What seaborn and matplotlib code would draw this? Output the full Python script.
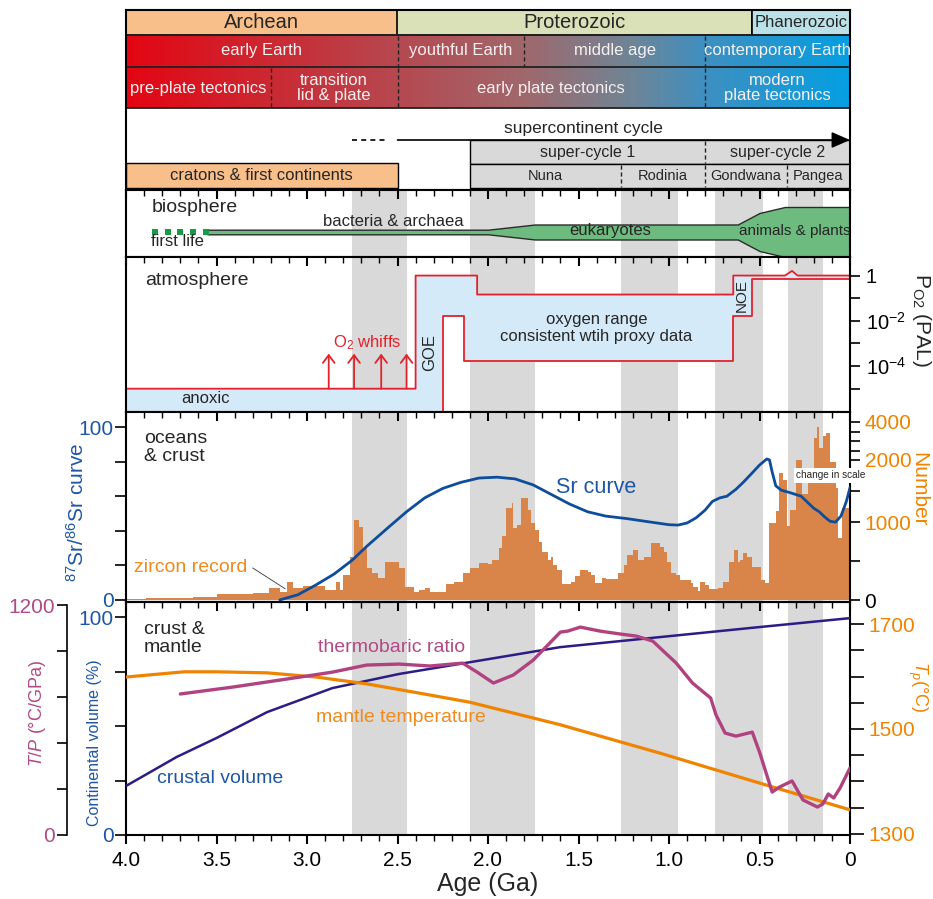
import numpy as np
import pandas as pd
import matplotlib
matplotlib.use("Agg")
import matplotlib.pyplot as plt
import seaborn as sns
from matplotlib.colors import LinearSegmentedColormap
from matplotlib.patches import Rectangle
from matplotlib.ticker import MultipleLocator, NullLocator

sns.set_theme(style="white")
plt.rcParams["font.family"] = ["Liberation Sans", "DejaVu Sans"]
plt.rcParams["mathtext.fontset"] = "custom"
plt.rcParams["mathtext.rm"] = "Liberation Sans"
plt.rcParams["mathtext.it"] = "Liberation Sans:italic"
plt.rcParams["axes.edgecolor"] = "black"
plt.rcParams["xtick.color"] = "black"
plt.rcParams["ytick.color"] = "black"

# --- header rows
eon_names = ["Archean", "Proterozoic", "Phanerozoic"]
eon_start = [4.0, 2.5, 0.541]
eon_end = [2.5, 0.541, 0.0]
eon_colors = ["#f8bf8a", "#dae0b8", "#bbe1e8"]

stage_names = ["early Earth", "youthful Earth", "middle age", "contemporary Earth"]
stage_bounds = [4.0, 2.5, 1.8, 0.8, 0.0]
tecto_names = ["pre-plate tectonics", "transition\nlid & plate", "early plate tectonics",
               "modern\nplate tectonics"]
tecto_bounds = [4.0, 3.2, 2.5, 0.8, 0.0]

cycle_start = 2.5
early_cycle = [2.75, 2.57]
supercycle_names = ["super-cycle 1", "super-cycle 2"]
supercycle_bounds = [2.1, 0.8, 0.0]
supercont_names = ["Nuna", "Rodinia", "Gondwana", "Pangea"]
supercont_bounds = [2.1, 1.265, 0.8, 0.35, 0.0]
craton_span = [4.0, 2.5]

grey_bands = [(2.75, 2.45), (2.10, 1.74), (1.265, 0.95), (0.745, 0.48), (0.34, 0.15)]

# --- biosphere (half thickness of the life band)
bio_age = [3.55, 2.0, 1.74, 0.62, 0.50, 0.36, 0.0]
bio_half = [2.3, 2.3, 7.5, 7.5, 19, 25, 25]
first_life_age = [3.84, 3.77, 3.70, 3.63, 3.56]

# --- atmosphere, pO2 (PAL)
o2_age = [4.0, 2.40, 2.40, 2.25, 2.25, 2.13, 2.13, 2.06, 2.06, 0.645, 0.645, 0.54, 0.54,
          0.36, 0.32, 0.29, 0.0]
o2_high = [1e-5, 1e-5, 1, 1, 1, 1, 1, 1, 0.145, 0.145, 1, 1, 1, 1, 1.6, 1, 1]
o2_low = [1e-7, 1e-7, 1e-7, 1e-7, 0.016, 0.016, 1.6e-4, 1.6e-4, 1.6e-4, 1.6e-4, 0.016,
          0.016, 0.74, 0.74, 0.74, 0.74, 0.74]
whiff_ages = [2.88, 2.74, 2.59, 2.45]

# --- oceans & crust
sr_age = [3.15, 3.05, 2.95, 2.85, 2.75, 2.67, 2.55, 2.45, 2.35, 2.25, 2.15, 2.05, 1.95,
          1.85, 1.75, 1.65, 1.55, 1.45, 1.35, 1.23, 1.10, 1.0, 0.95, 0.90, 0.85, 0.80,
          0.76, 0.72, 0.68, 0.63, 0.59, 0.54, 0.50, 0.46, 0.445, 0.43, 0.41, 0.38, 0.33,
          0.27, 0.23, 0.20, 0.17, 0.14, 0.11, 0.08, 0.05, 0.02, 0.0]
sr_value = [0, 3, 8.7, 15, 23, 31, 42, 51, 59, 64.5, 68, 70.5, 71, 70, 66.5, 61, 55.5,
            51, 48.5, 47, 45, 43.5, 43.3, 44.5, 47.5, 52, 57, 59, 60, 64, 68, 73.5, 78,
            81.5, 81, 74, 66, 63.5, 62, 60, 56, 53, 51, 48, 45.5, 45, 48.5, 57, 65]

zircon_edges = [4.00, 3.89, 3.63, 3.50, 3.30, 3.21, 3.15, 3.11, 3.08, 3.02,
                2.90, 2.84, 2.82, 2.80, 2.76, 2.74, 2.71, 2.69, 2.67, 2.64,
                2.61, 2.57, 2.49, 2.46, 2.41, 2.38, 2.35, 2.32, 2.23, 2.19,
                2.14, 2.10, 2.05, 2.00, 1.98, 1.94, 1.92, 1.90, 1.87, 1.86,
                1.84, 1.82, 1.78, 1.76, 1.74, 1.72, 1.70, 1.67, 1.65, 1.64,
                1.62, 1.59, 1.54, 1.52, 1.49, 1.45, 1.43, 1.41, 1.37, 1.35,
                1.28, 1.25, 1.23, 1.20, 1.17, 1.14, 1.10, 1.05, 1.03, 1.01,
                0.99, 0.96, 0.94, 0.88, 0.87, 0.84, 0.83, 0.80, 0.78, 0.73,
                0.70, 0.67, 0.64, 0.62, 0.61, 0.59, 0.57, 0.54, 0.49, 0.47,
                0.45, 0.41, 0.39, 0.37, 0.35, 0.33, 0.30, 0.265, 0.23, 0.20,
                0.185, 0.17, 0.15, 0.13, 0.11, 0.075, 0.065, 0.045, 0.0]
zircon_counts = [15, 25, 35, 77, 85, 150, 100, 225, 150, 180,
                 128, 235, 130, 320, 550, 1030, 940, 670, 410, 345,
                 280, 490, 410, 170, 100, 128, 150, 107, 205, 235,
                 340, 410, 475, 460, 513, 665, 820, 1226, 1306, 920,
                 960, 1390, 1190, 990, 900, 745, 615, 513, 547, 450,
                 385, 205, 235, 308, 385, 360, 320, 220, 280, 270,
                 340, 450, 577, 640, 513, 555, 730, 680, 615, 490,
                 345, 320, 256, 213, 170, 115, 235, 190, 140, 158,
                 235, 490, 640, 490, 513, 600, 555, 425, 256, 213,
                 985, 1180, 1790, 1680, 950, 1200, 2000, 1450, 1700, 3160,
                 3740, 2630, 3250, 3400, 1970, 1550, 795, 1225]

# --- crust & mantle
cv_age = [4.0, 3.72, 3.50, 3.22, 2.86, 2.49, 2.12, 1.60, 1.05, 0.50, 0.0]
cv_value = [22.5, 35.8, 44.5, 56.4, 67.4, 73.9, 79.0, 86.2, 90.8, 95.4, 99.5]
mt_age = [4.0, 3.68, 3.50, 3.22, 2.95, 2.67, 2.39, 2.10, 1.60, 1.05, 0.50, 0.0]
mt_value = [1599, 1609, 1609, 1607, 1599, 1586, 1569, 1551, 1508, 1454, 1397, 1346]
tpr_age = [3.70, 3.41, 3.04, 2.86, 2.67, 2.49, 2.32, 2.14, 2.06, 1.97, 1.86, 1.75, 1.60,
           1.56, 1.49, 1.38, 1.27, 1.18, 1.09, 0.96, 0.87, 0.77, 0.74, 0.69, 0.63, 0.54,
           0.50, 0.43, 0.39, 0.32, 0.26, 0.18, 0.15, 0.12, 0.09, 0.055, 0.0]
tpr_value = [736, 772, 824, 850, 887, 892, 882, 897, 850, 793, 835, 913, 1059, 1064, 1085,
             1064, 1049, 1038, 1012, 897, 793, 715, 626, 532, 516, 537, 433, 224, 250, 282,
             183, 146, 162, 214, 193, 245, 350]

GREY = "#d9d9d9"
RED = "#e3212b"
ORANGE = "#f08300"
BAR = "#d9854a"
SRBLUE = "#0d4d9c"
TXTBLUE = "#1e56a6"
NAVY = "#2b1d86"
MAGENTA = "#b0437f"
MAGTXT = "#b24a86"

fig = plt.figure(figsize=(9.33, 8.99), dpi=100)
W, H = 933, 899


def box(x0, y0, x1, y1):
    return [x0 / W, 1 - y1 / H, (x1 - x0) / W, (y1 - y0) / H]


def frame(ax):
    for s in ax.spines.values():
        s.set_linewidth(1.5)
        s.set_color("black")


def top_ticks(ax):
    ax.set_xlim(4.0, 0.0)
    ax.xaxis.set_major_locator(MultipleLocator(0.5))
    ax.xaxis.set_minor_locator(MultipleLocator(0.1))
    ax.tick_params(axis="x", which="both", top=True, bottom=False, labeltop=False,
                   labelbottom=False, direction="in")
    ax.tick_params(axis="x", which="major", length=6.5, width=1.5)
    ax.tick_params(axis="x", which="minor", length=4, width=1)


def bands(ax):
    for a0, a1 in grey_bands:
        ax.axvspan(a0, a1, color=GREY, lw=0, zorder=0)


# ================= header =================
ax_h = fig.add_axes(box(126, 10, 850, 190))
ax_h.set_xticks([])
ax_h.set_yticks([])
frame(ax_h)

for name, a0, a1, col in zip(eon_names, eon_start, eon_end, eon_colors):
    ax_h.add_patch(Rectangle((a1, 10), a0 - a1, 25, facecolor=col, edgecolor="black", lw=1.2))
    ax_h.text((a0 + a1) / 2, 23, name, ha="center", va="center",
              fontsize=12 if name == "Phanerozoic" else 14.5)

grad = LinearSegmentedColormap.from_list(
    "earth", [(0, "#e30613"), (0.35, "#b9444c"), (0.55, "#a0686c"), (0.7, "#6f8596"),
              (0.8, "#3f8fc0"), (1, "#059fe2")])
ax_h.imshow(np.linspace(0, 1, 400)[None, :], extent=(4.0, 0.0, 108, 35), cmap=grad,
            aspect="auto", zorder=0, interpolation="bilinear")
for yy in (35, 67, 108):
    ax_h.axhline(yy, color="#222222", lw=1.3)

for i, name in enumerate(stage_names):
    ax_h.text((stage_bounds[i] + stage_bounds[i + 1]) / 2, 51, name, ha="center",
              va="center", fontsize=12, color="#f6f0f0")
for a in stage_bounds[1:-1]:
    ax_h.plot([a, a], [36, 66], color="#222222", lw=1, ls=(0, (3, 2)))
for i, name in enumerate(tecto_names):
    ax_h.text((tecto_bounds[i] + tecto_bounds[i + 1]) / 2, 88, name, ha="center",
              va="center", fontsize=12, color="#f6f0f0", linespacing=1.0)
for a in tecto_bounds[1:-1]:
    ax_h.plot([a, a], [68, 107], color="#222222", lw=1, ls=(0, (3, 2)))

# supercontinent cycle row
ax_h.plot(early_cycle, [140, 140], color="black", lw=1.2, ls=(0, (3, 2.5)))
ax_h.annotate("", xy=(0.0, 140), xytext=(cycle_start, 140),
              arrowprops=dict(arrowstyle="-|>,head_length=0.8,head_width=0.35",
                              color="black", lw=1.2, shrinkA=0, shrinkB=0,
                              mutation_scale=14), annotation_clip=False)
ax_h.text(1.475, 129, "supercontinent cycle", ha="center", va="center", fontsize=12.5)

ax_h.add_patch(Rectangle((0.0, 140), supercycle_bounds[0], 24, facecolor=GREY,
                         edgecolor="black", lw=1.0, zorder=1))
ax_h.add_patch(Rectangle((0.0, 164), supercont_bounds[0], 24, facecolor=GREY,
                         edgecolor="black", lw=1.0, zorder=1))
for i, name in enumerate(supercycle_names):
    ax_h.text((supercycle_bounds[i] + supercycle_bounds[i + 1]) / 2, 152, name,
              ha="center", va="center", fontsize=11.5, zorder=3)
for a in supercycle_bounds[1:-1]:
    ax_h.plot([a, a], [141, 163], color="#222222", lw=1, ls=(0, (3, 2)), zorder=2)
for i, name in enumerate(supercont_names):
    ax_h.text((supercont_bounds[i] + supercont_bounds[i + 1]) / 2, 176, name,
              ha="center", va="center", fontsize=10.5, zorder=3)
for a in supercont_bounds[1:-1]:
    ax_h.plot([a, a], [165, 187], color="#222222", lw=1, ls=(0, (3, 2)), zorder=2)

ax_h.add_patch(Rectangle((craton_span[1], 163), craton_span[0] - craton_span[1], 25,
                         facecolor=eon_colors[0], edgecolor="black", lw=1.0, zorder=1))
ax_h.text(sum(craton_span) / 2, 176, "cratons & first continents", ha="center",
          va="center", fontsize=12, zorder=3)
ax_h.set_xlim(4.0, 0.0)
ax_h.set_ylim(190, 10)

# ================= biosphere =================
ax_b = fig.add_axes(box(126, 190, 850, 257))
frame(ax_b)
bands(ax_b)
top_ticks(ax_b)
ax_b.set_yticks([])
ax_b.fill_between(bio_age, -np.array(bio_half), np.array(bio_half), facecolor="#6dbb7e",
                  edgecolor="#2b2b2b", lw=1, zorder=2)
sns.scatterplot(x=first_life_age, y=[0] * len(first_life_age), marker="s", s=16,
                color="#199a49", linewidth=0, ax=ax_b, zorder=3)
ax_b.set_ylim(-25, 42)
ax_b.set_xlim(4.0, 0.0)
ax_b.text(3.86, 25, "biosphere", ha="left", va="center", fontsize=14)
ax_b.text(2.525, 11, "bacteria & archaea", ha="center", va="center", fontsize=12)
ax_b.text(3.86, -10, "first life", ha="left", va="center", fontsize=12)
ax_b.text(1.326, 1, "eukaryotes", ha="center", va="center", fontsize=12)
ax_b.text(0.304, 1, "animals & plants", ha="center", va="center", fontsize=11)

# ================= atmosphere =================
ax_a = fig.add_axes(box(126, 257, 850, 412))
frame(ax_a)
bands(ax_a)
top_ticks(ax_a)
ax_a.set_yscale("log")
ax_a.fill_between(o2_age, o2_low, o2_high, color="#d4eaf8", lw=0, zorder=1)
ax_a.plot(o2_age, o2_high, color=RED, lw=1.3, zorder=2)
ax_a.plot(o2_age[3:], o2_low[3:], color=RED, lw=1.3, zorder=2)
for a in whiff_ages:
    ax_a.annotate("", xy=(a, 10 ** -3.45), xytext=(a, 1e-5),
                  arrowprops=dict(arrowstyle="->,head_length=0.4,head_width=0.3",
                                  color=RED, lw=1.3, shrinkA=0, shrinkB=0,
                                  mutation_scale=14))
ax_a.set_ylim(10 ** -6.03, 10 ** 0.82)
ax_a.set_xlim(4.0, 0.0)
ax_a.yaxis.tick_right()
ax_a.set_yticks([1, 1e-1, 1e-2, 1e-3, 1e-4, 1e-5],
                ["1", "", "10$^{-2}$", "", "10$^{-4}$", ""])
ax_a.yaxis.set_minor_locator(NullLocator())
ax_a.tick_params(axis="y", which="major", direction="out", length=7.5, width=1.2,
                 labelsize=14.5, pad=4, right=True, left=False)
ax_a.text(0.026, 0.85, "atmosphere", transform=ax_a.transAxes, ha="left", va="center",
          fontsize=14)
ax_a.text(3.56, 10 ** -5.43, "anoxic", ha="center", va="center", fontsize=12)
ax_a.text(2.67, 10 ** -2.97, "O$_2$ whiffs", ha="center", va="center", fontsize=12,
          color=RED)
ax_a.text(2.32, 10 ** -3.4, "GOE", ha="center", va="center", fontsize=12, rotation=90)
ax_a.text(0.597, 10 ** -0.9, "NOE", ha="center", va="center", fontsize=11, rotation=90)
ax_a.text(1.40, 10 ** -2.33, "oxygen range\nconsistent wtih proxy data", ha="center",
          va="center", fontsize=12, linespacing=1.15)

# ================= oceans & crust =================
breaks = [0, 1000, 2000, 4000]
heights = [0, 78, 140, 178]


def num_fwd(v):
    v = np.asarray(v, dtype=float)
    out = np.interp(v, breaks, heights)
    out = np.where(v < 0, v * 0.078, out)
    return np.where(v > 4000, 178 + (v - 4000) * 0.019, out)


def num_inv(h):
    h = np.asarray(h, dtype=float)
    out = np.interp(h, heights, breaks)
    out = np.where(h < 0, h / 0.078, out)
    return np.where(h > 178, 4000 + (h - 178) / 0.019, out)


ax_n = fig.add_axes(box(126, 412, 850, 602))
frame(ax_n)
bands(ax_n)
ax_n.set_yscale("function", functions=(num_fwd, num_inv))
z_edges = [float(e) for e in zircon_edges[::-1]]
z_counts = zircon_counts[::-1]
zircon = pd.DataFrame({
    "age": [(a + b) / 2 for a, b in zip(z_edges[:-1], z_edges[1:])],
    "count": z_counts,
})
sns.histplot(data=zircon, x="age", weights="count", bins=z_edges, ax=ax_n, color=BAR,
             alpha=1, linewidth=0, zorder=2)
ax_n.set_xlabel("")
ax_n.set_ylabel("")
top_ticks(ax_n)
ax_n.set_ylim(float(num_inv(-2)), float(num_inv(188)))

ax_sr = ax_n.twinx()
for s in ax_sr.spines.values():
    s.set_visible(False)
ax_sr.yaxis.tick_left()
ax_n.yaxis.tick_right()
ax_n.set_yticks([0, 500, 1000, 1500, 2000, 2500, 3000, 3500, 4000],
                ["0", "", "1000", "", "2000", "", "", "", "4000"])
ax_n.tick_params(axis="y", direction="out", length=7.5, width=1.2, labelsize=15, pad=3,
                 labelcolor=ORANGE, right=True, left=False, labelright=True,
                 labelleft=False)
for lbl in ax_n.get_yticklabels():
    if lbl.get_text() == "0":
        lbl.set_color("black")

sns.lineplot(x=sr_age, y=sr_value, sort=False, color=SRBLUE, lw=2, ax=ax_sr, zorder=3)
ax_sr.set_ylim(-1.2, 108.7)
ax_sr.set_xlim(4.0, 0.0)
ax_sr.set_ylabel("")
ax_sr.set_yticks([0, 20, 40, 60, 80, 100], ["0", "", "", "", "", "100"])
ax_sr.tick_params(axis="y", direction="out", length=8, width=1.2, labelsize=15, pad=1,
                  labelcolor=TXTBLUE, left=True, right=False, labelleft=True,
                  labelright=False)
ax_sr.text(3.9, 88, "oceans\n& crust", ha="left", va="center", fontsize=14,
           linespacing=1.1)
ax_sr.text(1.40, 65.3, "Sr curve", ha="center", va="center", fontsize=15.5, color=TXTBLUE)
ax_sr.text(3.956, 18.5, "zircon record", ha="left", va="center", fontsize=14,
           color="#ef8a1e")
ax_sr.plot([3.30, 3.12], [18.5, 6.4], color="#333333", lw=0.6)
ax_sr.text(0.105, 72, "change in scale", ha="center", va="center", fontsize=7.2,
           bbox=dict(facecolor="white", edgecolor="none", pad=1.5), clip_on=False,
           zorder=5)

# ================= crust & mantle =================
ax_c = fig.add_axes(box(126, 602, 850, 835))
frame(ax_c)
bands(ax_c)
sns.lineplot(x=cv_age, y=cv_value, color=NAVY, lw=1.8, ax=ax_c, zorder=3)
ax_c.set_xlim(4.0, 0.0)
ax_c.set_ylim(0, 106.9)
ax_c.set_xlabel("")
ax_c.set_ylabel("")
ax_c.xaxis.set_minor_locator(MultipleLocator(0.1))
xt = np.arange(0, 4.01, 0.5)
ax_c.set_xticks(xt, ["0" if v == 0 else f"{v:.1f}" for v in xt])
ax_c.tick_params(axis="x", which="both", bottom=True, top=False, direction="out",
                 labelsize=15, pad=5)
ax_c.tick_params(axis="x", which="major", length=6.5, width=1.5)
ax_c.tick_params(axis="x", which="minor", length=4, width=1)
sec = ax_c.secondary_xaxis("top")
sec.xaxis.set_major_locator(MultipleLocator(0.5))
sec.xaxis.set_minor_locator(MultipleLocator(0.1))
sec.tick_params(axis="x", which="both", direction="in", labeltop=False, top=True)
sec.tick_params(axis="x", which="major", length=6.5, width=1.5)
sec.tick_params(axis="x", which="minor", length=4, width=1)
sec.spines["top"].set_linewidth(1.5)

ax_t = ax_c.twinx()
for s in ax_t.spines.values():
    s.set_visible(False)
sns.lineplot(x=mt_age, y=mt_value, color=ORANGE, lw=2.3, ax=ax_t, zorder=3)
ax_t.set_ylim(1298, 1742)
ax_t.set_xlim(4.0, 0.0)
ax_t.set_ylabel("")
ax_t.set_yticks(np.arange(1300, 1701, 50),
                ["1300", "", "", "", "1500", "", "", "", "1700"])
ax_t.tick_params(axis="y", direction="out", length=10, width=1.2, labelsize=15, pad=3,
                 labelcolor=ORANGE, right=True, left=False)

ax_r = ax_c.twinx()
for s in ax_r.spines.values():
    s.set_visible(False)
ax_r.spines["left"].set_visible(True)
ax_r.spines["left"].set_position(("outward", 42.5))
ax_r.spines["left"].set_linewidth(1.2)
ax_r.spines["left"].set_bounds(0, 1200)
ax_r.yaxis.tick_left()
sns.lineplot(x=tpr_age, y=tpr_value, color=MAGENTA, lw=2.4, ax=ax_r, zorder=4)
ax_r.set_ylim(0, 1216)
ax_r.set_xlim(4.0, 0.0)
ax_r.set_ylabel("")
ax_r.set_yticks(np.arange(0, 1201, 240), ["0", "", "", "", "", "1200"])
ax_r.tick_params(axis="y", direction="out", length=7.5, width=1.2, labelsize=15, pad=1,
                 labelcolor=MAGTXT, left=True, right=False, labelleft=True,
                 labelright=False)

ax_c.yaxis.tick_left()
ax_c.set_yticks([0, 25, 50, 75, 100], ["0", "", "", "", "100"])
ax_c.tick_params(axis="y", direction="out", length=8, width=1.2, labelsize=15, pad=1,
                 labelcolor=TXTBLUE, left=True, right=False)

ax_c.text(3.9, 90, "crust &\nmantle", ha="left", va="center", fontsize=14,
          linespacing=1.1, zorder=5)
ax_c.text(2.94, 85.8, "thermobaric ratio", ha="left", va="center", fontsize=14,
          color=MAGTXT, zorder=5)
ax_c.text(2.95, 53.7, "mantle temperature", ha="left", va="center", fontsize=14,
          color="#ef8a1e", zorder=5)
ax_c.text(3.83, 25.7, "crustal volume", ha="left", va="center", fontsize=14,
          color=TXTBLUE, zorder=5)


# ================= outer axis titles =================
def ftext(x, y, s, **kw):
    fig.text(x / W, 1 - y / H, s, ha="center", va="center", **kw)


ftext(488, 884, "Age (Ga)", fontsize=18)
ftext(921, 320, r"P$_{\mathrm{O2}}$ (PAL)", fontsize=15, rotation=-90)
ftext(919, 489, "Number", fontsize=15, rotation=-90, color=ORANGE)
ftext(918, 687, r"$T_p$(°C)", fontsize=13, rotation=-90, color=ORANGE)
ftext(77, 512, r"$^{87}$Sr/$^{86}$Sr curve", fontsize=15, rotation=90, color=TXTBLUE)
ftext(94, 743, "Continental volume (%)", fontsize=11.5, rotation=90, color=TXTBLUE)
ftext(38, 713, r"$T/P$ (°C/GPa)", fontsize=13, rotation=90, color=MAGTXT)

fig.savefig("out.png", dpi=100)
